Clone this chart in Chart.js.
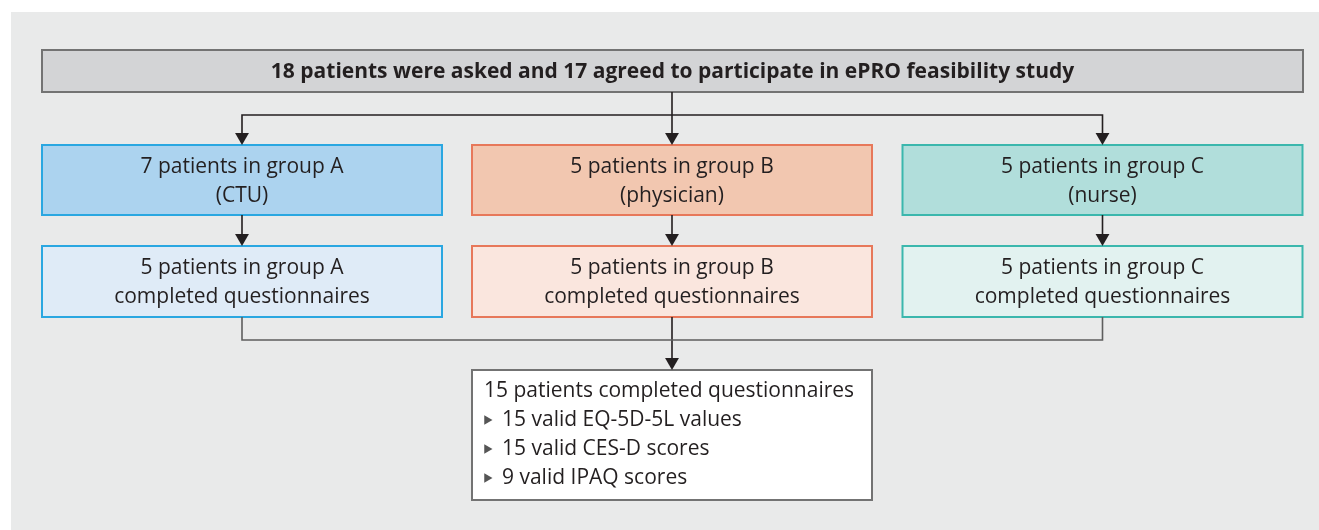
<!DOCTYPE html>
<html>
<head>
<meta charset="utf-8">
<script src="https://cdn.jsdelivr.net/npm/chart.js@4.4.1/dist/chart.umd.min.js"></script>
<style>
    body { margin: 0; background: #fff; }
    #flow { display: block; }
</style>
</head>
<body>
<canvas id="flow" width="1319" height="530"></canvas>
<script>
// study numbers
const asked = 18;
const agreed = 17;
const groups = ['A', 'B', 'C'];
const roles = ['CTU', 'physician', 'nurse'];
const enrolled = [7, 5, 5];
const completed = [5, 5, 5];
const totalCompleted = 15;
const validCounts = [15, 15, 9];
const validLabels = ['EQ-5D-5L values', 'CES-D scores', 'IPAQ scores'];

// layout (canvas units, same as the linear scales below)
const colX = [242, 672, 1102.5];
const halfW = 200;
const topBox = { x0: 42, x1: 1303, y0: 50, y1: 92 };
const row1 = { y0: 145, y1: 215 };
const row2 = { y0: 246, y1: 317 };
const splitY = 115;
const joinY = 340;
const endBox = { x0: 472, x1: 872, y0: 370, y1: 500 };

const strongFill = ['#acd3ef', '#f2c7b0', '#b1dedb'];
const lightFill = ['#dfebf7', '#fae6de', '#e2f2f0'];
const edge = ['#2aa7e1', '#e7785a', '#3bb7ad'];
const ink = '#231f20';
const font = '"Open Sans", "Noto Sans", sans-serif';

const boxes = [];
boxes.push({ ...topBox, fill: '#d3d4d6', stroke: '#737373', bold: true,
    lines: [asked + ' patients were asked and ' + agreed + ' agreed to participate in ePRO feasibility study'] });
groups.forEach((g, i) => {
    boxes.push({ x0: colX[i] - halfW, x1: colX[i] + halfW, ...row1, fill: strongFill[i], stroke: edge[i],
        lines: [enrolled[i] + ' patients in group ' + g, '(' + roles[i] + ')'] });
    boxes.push({ x0: colX[i] - halfW, x1: colX[i] + halfW, ...row2, fill: lightFill[i], stroke: edge[i],
        lines: [completed[i] + ' patients in group ' + g, 'completed questionnaires'] });
});
const listLines = [totalCompleted + ' patients completed questionnaires']
    .concat(validCounts.map((n, i) => n + ' valid ' + validLabels[i]));
boxes.push({ ...endBox, fill: '#ffffff', stroke: '#737373', list: listLines });

// connectors as line datasets
const seg = (pts, color) => ({
    type: 'line', data: pts.map(p => ({ x: p[0], y: p[1] })),
    borderColor: color, borderWidth: 1.6, pointRadius: 0, fill: false, tension: 0,
});
const connectors = [
    seg([[colX[1], topBox.y1], [colX[1], splitY]], ink),
    seg([[colX[0], row1.y0 - 8], [colX[0], splitY], [colX[2], splitY], [colX[2], row1.y0 - 8]], ink),
    seg([[colX[1], splitY], [colX[1], row1.y0 - 8]], ink),
];
groups.forEach((g, i) => {
    connectors.push(seg([[colX[i], row1.y1], [colX[i], row2.y0 - 8]], ink));
});
connectors.push(seg([[colX[0], row2.y1], [colX[0], joinY], [colX[2], joinY], [colX[2], row2.y1]], '#5e5e5e'));
connectors.push(seg([[colX[1], row2.y1], [colX[1], endBox.y0 - 8]], ink));

// arrow heads (triangle points, rotated to point down)
const heads = [];
colX.forEach(x => { heads.push({ x: x, y: row1.y0 - 8 }); heads.push({ x: x, y: row2.y0 - 8 }); });
heads.push({ x: colX[1], y: endBox.y0 - 8 });

// bullets in the final box
const bullets = validCounts.map((n, i) => ({ x: endBox.x0 + 15, y: endBox.y0 + 50 + i * 29 }));

const boxPlugin = {
    id: 'boxes',
    beforeDatasetsDraw(chart) {
        const { ctx, scales: { x, y } } = chart;
        ctx.save();
        ctx.fillStyle = '#e9eaea';
        ctx.fillRect(x.getPixelForValue(11), y.getPixelForValue(12), chart.width, chart.height);
        boxes.forEach(b => {
            const l = x.getPixelForValue(b.x0), r = x.getPixelForValue(b.x1);
            const t = y.getPixelForValue(b.y0), btm = y.getPixelForValue(b.y1);
            ctx.fillStyle = b.fill;
            ctx.fillRect(l, t, r - l, btm - t);
            ctx.strokeStyle = b.stroke;
            ctx.lineWidth = 2;
            ctx.strokeRect(l, t, r - l, btm - t);
        });
        ctx.restore();
    },
    afterDatasetsDraw(chart) {
        const { ctx, scales: { x, y } } = chart;
        ctx.save();
        ctx.fillStyle = ink;
        ctx.textBaseline = 'middle';
        boxes.forEach(b => {
            const l = x.getPixelForValue(b.x0), r = x.getPixelForValue(b.x1);
            const t = y.getPixelForValue(b.y0), btm = y.getPixelForValue(b.y1);
            if (b.list) {
                ctx.font = '21px ' + font;
                ctx.textAlign = 'left';
                b.list.forEach((s, i) => {
                    ctx.fillText(s, i === 0 ? l + 12 : l + 30, t + 21.5 + i * 29);
                });
                return;
            }
            ctx.font = (b.bold ? 'bold ' : '') + '21px ' + font;
            ctx.textAlign = 'center';
            const mid = (t + btm) / 2 + 1.5;
            const n = b.lines.length;
            b.lines.forEach((s, i) => {
                ctx.fillText(s, (l + r) / 2, mid + (i - (n - 1) / 2) * 29);
            });
        });
        ctx.restore();
    }
};

new Chart(document.getElementById('flow'), {
    type: 'scatter',
    data: {
        datasets: connectors.concat([
            {
                data: heads, pointStyle: 'triangle', rotation: 180, pointRadius: 8,
                backgroundColor: ink, borderColor: ink, borderWidth: 0,
            },
            {
                data: bullets, pointStyle: 'triangle', rotation: 90, pointRadius: 5.5,
                backgroundColor: '#555', borderColor: '#555', borderWidth: 0,
            },
        ]),
    },
    options: {
        responsive: false,
        animation: false,
        layout: { padding: 0, autoPadding: false },
        plugins: { legend: { display: false }, tooltip: { enabled: false } },
        scales: {
            x: { type: 'linear', min: 0, max: 1319, display: false },
            y: { type: 'linear', min: 0, max: 530, reverse: true, display: false },
        },
    },
    plugins: [boxPlugin],
});
</script>
</body>
</html>
